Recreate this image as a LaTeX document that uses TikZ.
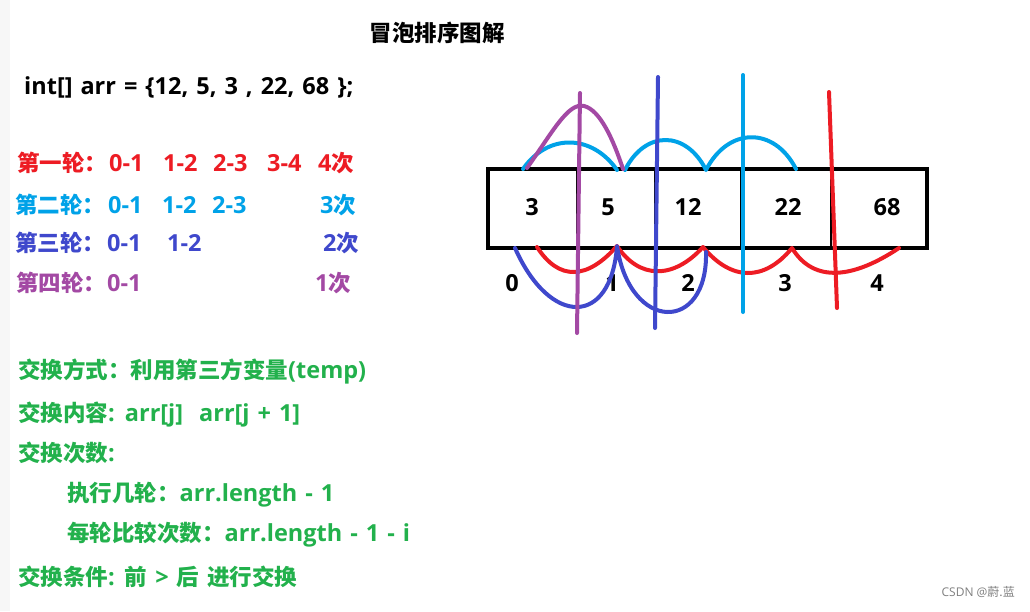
\documentclass[tikz,border=0pt]{standalone}
\usepackage{fontspec}
\setmainfont{Open Sans}
\newfontfamily\cjkfont{Noto Sans CJK SC}
\newcommand\zhtxt[1]{{\fontsize{22.5}{28}\selectfont\cjkfont #1}}
\newcommand\widespace{\spaceskip 0.34em\relax}
\usetikzlibrary{positioning}
\definecolor{pred}{HTML}{ED1C24}
\definecolor{pcyan}{HTML}{00A2E8}
\definecolor{pblue}{HTML}{3F48CC}
\definecolor{ppurple}{HTML}{A349A4}
\definecolor{pgreen}{HTML}{22B14C}
\tikzset{
  txt/.style={anchor=west, inner sep=0pt, font=\fontsize{23.5}{28}\selectfont\bfseries\widespace},
  num/.style={inner sep=0pt, font=\fontsize{23.5}{28}\selectfont\bfseries},
  cell/.style={draw, line width=2pt, minimum height=79pt, inner sep=0pt, outer sep=0pt},
  pen/.style={line width=4pt, line cap=round, line join=round},
}

\begin{document}
\begin{tikzpicture}[x=1pt,y=-1pt]
            \fill[white] (0,0) rectangle (1030,611);
            \fill[gray!6] (0,0) rectangle (10,611);
            \useasboundingbox (0,0) rectangle (1030,611);

            \draw (437,33) node[num] (title) {\zhtxt{冒泡排序图解}};
            \draw (24,87) node[txt] (arr) {int[] arr = \{12, 5, 3 , 22, 68 \};};

            \draw (17,163) node[txt, text=pred] (r1) {\zhtxt{第一轮：}};
            \draw (109,163) node[txt, text=pred] (r1a) {0-1};
            \draw (163,163) node[txt, text=pred] (r1b) {1-2};
            \draw (213,163) node[txt, text=pred] (r1c) {2-3};
            \draw (267,163) node[txt, text=pred] (r1d) {3-4};
            \draw (318,163) node[txt, text=pred] (r1n) {4\zhtxt{次}};

            \draw (15,205) node[txt, text=pcyan] (r2) {\zhtxt{第二轮：}};
            \draw (108,205) node[txt, text=pcyan] (r2a) {0-1};
            \draw (162,205) node[txt, text=pcyan] (r2b) {1-2};
            \draw (212,205) node[txt, text=pcyan] (r2c) {2-3};
            \draw (320,205) node[txt, text=pcyan] (r2n) {3\zhtxt{次}};

            \draw (15,243) node[txt, text=pblue] (r3) {\zhtxt{第三轮：}};
            \draw (107,243) node[txt, text=pblue] (r3a) {0-1};
            \draw (167,243) node[txt, text=pblue] (r3b) {1-2};
            \draw (323,243) node[txt, text=pblue] (r3n) {2\zhtxt{次}};

            \draw (16,283) node[txt, text=ppurple] (r4) {\zhtxt{第四轮：}};
            \draw (107,283) node[txt, text=ppurple] (r4a) {0-1};
            \draw (315,283) node[txt, text=ppurple] (r4n) {1\zhtxt{次}};

            \draw (18,372) node[txt, text=pgreen] (way) {\zhtxt{交换方式：利用第三方变量}(temp)};
            \draw (18,415) node[txt, text=pgreen] (what) {\zhtxt{交换内容}: arr[j]\ \ arr[j + 1]};
            \draw (18,453) node[txt, text=pgreen] (count) {\zhtxt{交换次数}:};
            \draw (67,495) node[txt, text=pgreen] (rounds) {\zhtxt{执行几轮：}arr.length - 1};
            \draw (67,535) node[txt, text=pgreen] (times) {\zhtxt{每轮比较次数：}arr.length - 1 - i};
            \draw (18,577) node[txt, text=pgreen] (cond) {\zhtxt{交换条件}: \zhtxt{前} > \zhtxt{后 进行交换}};

            \draw (532.5,208.5) node[cell, minimum width=89pt] (c0) {};
            \draw (616,208.5) node[cell, minimum width=78pt] (c1) {};
            \draw (698,208.5) node[cell, minimum width=86pt] (c2) {};
            \draw (786,208.5) node[cell, minimum width=90pt] (c3) {};
            \draw (879,208.5) node[cell, minimum width=96pt] (c4) {};
            \draw[line width=4pt] (c0.north west) rectangle (c4.south east);

            \draw (532,207) node[num] (n0) {3};
            \draw (608,207) node[num] (n1) {5};
            \draw (688,207) node[num] (n2) {12};
            \draw (788,207) node[num] (n3) {22};
            \draw (887,207) node[num] (n4) {68};

            \draw (512,283) node[num] (i0) {0};
            \draw (612,283) node[num] (i1) {1};
            \draw (688,283) node[num] (i2) {2};
            \draw (785,283) node[num] (i3) {3};
            \draw (877,283) node[num] (i4) {4};

            \coordinate (ct0) at (523,169);
            \coordinate (ct1) at (617,170);
            \coordinate (ct2) at (625,170);
            \coordinate (ct3) at (706,170);
            \coordinate (ct4) at (796,169);
            \coordinate (pt0) at (527,168);
            \coordinate (ptop) at (584,106);
            \coordinate (pt1) at (623,169);
            \coordinate (rb0) at (537,247);
            \coordinate (rb1) at (617,246);
            \coordinate (rb2) at (703,247);
            \coordinate (rb3) at (792,248);
            \coordinate (rb4) at (899,248);
            \coordinate (bb0) at (515,248);
            \coordinate (bb2) at (706,252);

            \draw[pen, pcyan] (ct0) .. controls +(25,-36) and +(-25,-36) .. (ct1);
            \draw[pen, pcyan] (ct2) .. controls +(20,-40) and +(-20,-40) .. (ct3)
                                    .. controls +(22,-43) and +(-22,-43) .. (ct4);
            \draw[pen, ppurple] (pt0) .. controls +(25,-35) and +(-16,-4) .. (ptop)
                                      .. controls +(16,4) and +(-10,-30) .. (pt1);
            \draw[pen, pred] (rb0) .. controls +(22,34) and +(-30,34) .. (rb1)
                                   .. controls +(22,33) and +(-30,33) .. (rb2)
                                   .. controls +(28,34) and +(-28,34) .. (rb3)
                                   .. controls +(22,36) and +(-45,30) .. (rb4);
            \draw[pen, pblue] (bb0) .. controls +(35,79) and +(-6,81) .. (rb1)
                                    .. controls +(13,87) and +(2,81) .. (bb2);

            \coordinate (pv0) at (580,93);
            \coordinate (pv1) at (577,333);
            \coordinate (bv0) at (658,77);
            \coordinate (bv1) at (655,328);
            \coordinate (cv0) at (743,75);
            \coordinate (cv1) at (743,312);
            \coordinate (rv0) at (829,92);
            \coordinate (rv1) at (837,308);
            \draw[pen, ppurple] (pv0) -- (pv1);
            \draw[pen, pblue] (bv0) -- (bv1);
            \draw[pen, pcyan] (cv0) -- (cv1);
            \draw[pen, pred] (rv0) -- (rv1);

            \draw (1015,592) node[anchor=east, inner sep=0pt, text=gray, font=\fontsize{12}{14}\selectfont] (mark) {CSDN @\zhtxt{\fontsize{12}{14}\selectfont 蔚.蓝}};
        \end{tikzpicture}
\end{document}
